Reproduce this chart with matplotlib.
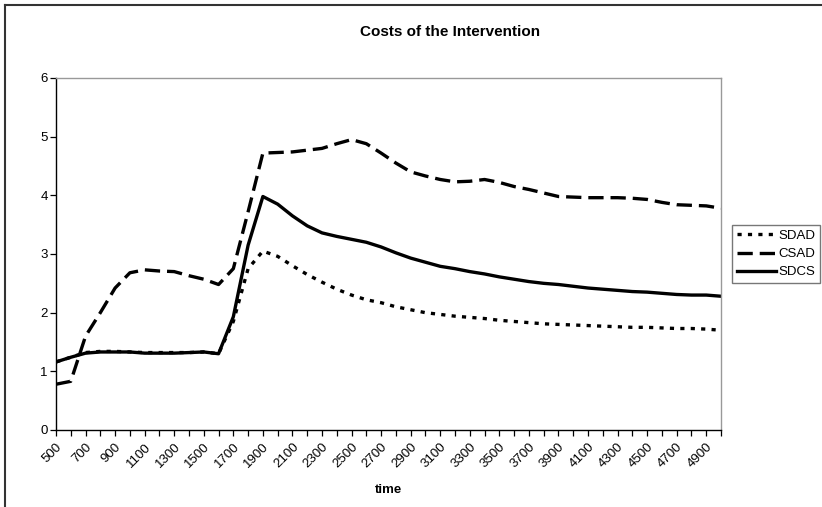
import numpy as np
import matplotlib
matplotlib.use("Agg")
import matplotlib.pyplot as plt
from matplotlib.lines import Line2D

plt.rcParams['font.family'] = ['Liberation Sans', 'DejaVu Sans']
plt.rcParams['lines.scale_dashes'] = False

time = list(range(500, 5001, 100))

sdad = [1.16, 1.24, 1.32, 1.34, 1.34, 1.33, 1.32, 1.32, 1.32, 1.32, 1.33, 1.30,
        1.85, 2.75, 3.05, 2.96, 2.80, 2.65, 2.52, 2.40, 2.30, 2.22, 2.17, 2.10,
        2.05, 2.00, 1.97, 1.94, 1.92, 1.90, 1.87, 1.85, 1.83, 1.81, 1.80, 1.79,
        1.78, 1.77, 1.76, 1.75, 1.75, 1.74, 1.73, 1.73, 1.72, 1.70]

csad = [0.78, 0.83, 1.60, 2.00, 2.42, 2.68, 2.73, 2.71, 2.70, 2.63, 2.57, 2.48,
        2.75, 3.72, 4.72, 4.73, 4.74, 4.77, 4.80, 4.88, 4.95, 4.88, 4.72, 4.55,
        4.40, 4.33, 4.27, 4.23, 4.24, 4.27, 4.22, 4.15, 4.10, 4.04, 3.98, 3.97,
        3.96, 3.96, 3.96, 3.95, 3.93, 3.88, 3.84, 3.83, 3.82, 3.78]

sdcs = [1.16, 1.24, 1.31, 1.33, 1.33, 1.33, 1.31, 1.31, 1.31, 1.32, 1.33, 1.30,
        1.93, 3.15, 3.98, 3.85, 3.65, 3.48, 3.36, 3.30, 3.25, 3.20, 3.12, 3.02,
        2.93, 2.86, 2.79, 2.75, 2.70, 2.66, 2.61, 2.57, 2.53, 2.50, 2.48, 2.45,
        2.42, 2.40, 2.38, 2.36, 2.35, 2.33, 2.31, 2.30, 2.30, 2.28]

W, H = 822, 507
fig = plt.figure(figsize=(W / 100, H / 100), dpi=100)
ax = fig.add_axes([56 / W, 1 - 430 / H, (721 - 56) / W, (430 - 78) / H])

x = np.arange(len(time))
ax.plot(x, sdad, color='black', lw=2.4, dashes=(3, 4.5), label='SDAD')
ax.plot(x, csad, color='black', lw=2.4, dashes=(11, 5), label='CSAD')
ax.plot(x, sdcs, color='black', lw=2.4, label='SDCS')

ax.set_xlim(0, len(time) - 1)
ax.set_ylim(0, 6)
ax.set_yticks(range(7))
ax.set_xticks(x)
ax.set_xticklabels([str(t) if i % 2 == 0 else '' for i, t in enumerate(time)],
                   rotation=45, ha='right', va='top', rotation_mode='anchor')
ax.tick_params(axis='both', direction='out', length=4, width=0.9, labelsize=9.5,
               color='black', pad=2)
ax.tick_params(axis='x', pad=4)

for side in ('left', 'bottom'):
    ax.spines[side].set_color('black')
    ax.spines[side].set_linewidth(1.0)
for side in ('top', 'right'):
    ax.spines[side].set_color('#999999')
    ax.spines[side].set_linewidth(1.0)

ax.set_xlabel('time', fontsize=9.5, fontweight='bold', labelpad=10)
fig.text(450 / W, 1 - 32 / H, 'Costs of the Intervention', ha='center', va='center',
         fontsize=11, fontweight='bold')

leg = ax.legend(loc='center left', bbox_to_anchor=(732 / W, 1 - 254 / H),
                bbox_transform=fig.transFigure, frameon=True, fancybox=False,
                fontsize=9.5, handlelength=3.0, handletextpad=0.15,
                borderpad=0.35, labelspacing=0.45, borderaxespad=0)
leg.get_frame().set_edgecolor('#555555')
leg.get_frame().set_linewidth(1.0)

# chart area border (top and left edges)
fig.add_artist(Line2D([5 / W, 5 / W], [0, 1 - 5 / H], transform=fig.transFigure,
                      color='#333333', lw=1.5))
fig.add_artist(Line2D([5 / W, 1], [1 - 5 / H, 1 - 5 / H], transform=fig.transFigure,
                      color='#333333', lw=1.5))

fig.savefig('out.png', dpi=100)
